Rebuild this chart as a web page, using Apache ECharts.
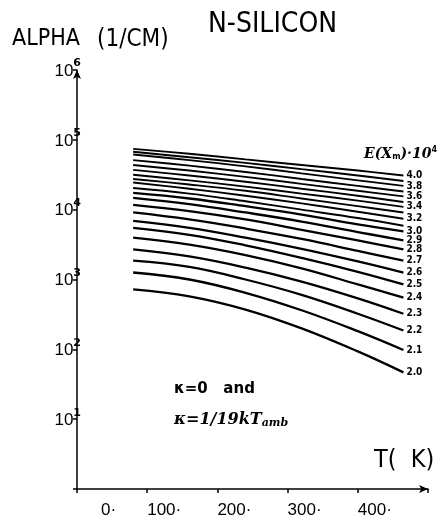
<!DOCTYPE html>
<html>
<head>
<meta charset="utf-8">
<script src="https://cdn.jsdelivr.net/npm/echarts@6/dist/echarts.min.js"></script>
<style>
  html, body { margin: 0; padding: 0; background: #fff; }
  #main { width: 439px; height: 522px; }
</style>
</head>
<body>
<div id="main"></div>
<script>
var temps = [80, 160, 240, 320, 400, 465];
// log10(alpha) per curve, E(Xm) in units of 10^4
var e20 = [2.86, 2.76, 2.57, 2.30, 1.97, 1.67];
var e21 = [3.10, 3.00, 2.81, 2.56, 2.26, 1.99];
var e22 = [3.27, 3.18, 3.00, 2.78, 2.51, 2.27];
var e23 = [3.43, 3.33, 3.17, 2.97, 2.73, 2.51];
var e24 = [3.60, 3.50, 3.35, 3.16, 2.93, 2.74];
var e25 = [3.74, 3.64, 3.49, 3.31, 3.11, 2.93];
var e26 = [3.84, 3.74, 3.60, 3.44, 3.26, 3.10];
var e27 = [3.96, 3.86, 3.73, 3.58, 3.41, 3.27];
var e28 = [4.07, 3.98, 3.86, 3.71, 3.56, 3.43];
var e29 = [4.17, 4.08, 3.96, 3.83, 3.68, 3.56];
var e30 = [4.24, 4.16, 4.05, 3.93, 3.79, 3.69];
var e31 = [4.31, 4.23, 4.12, 4.00, 3.88, 3.77];
var e32 = [4.39, 4.30, 4.20, 4.09, 3.97, 3.87];
var e33 = [4.44, 4.36, 4.27, 4.16, 4.05, 3.96];
var e34 = [4.50, 4.42, 4.33, 4.23, 4.13, 4.04];
var e35 = [4.57, 4.49, 4.40, 4.30, 4.20, 4.11];
var e36 = [4.64, 4.56, 4.47, 4.37, 4.27, 4.19];
var e37 = [4.71, 4.63, 4.54, 4.44, 4.34, 4.26];
var e38 = [4.79, 4.71, 4.62, 4.52, 4.42, 4.34];
var e39 = [4.83, 4.75, 4.67, 4.58, 4.49, 4.41];
var e40 = [4.87, 4.80, 4.72, 4.64, 4.56, 4.49];

var curveNames = ['2.0','2.1','2.2','2.3','2.4','2.5','2.6','2.7','2.8','2.9','3.0',
                  '3.1','3.2','3.3','3.4','3.5','3.6','3.7','3.8','3.9','4.0'];
var curveData = [e20,e21,e22,e23,e24,e25,e26,e27,e28,e29,e30,
                 e31,e32,e33,e34,e35,e36,e37,e38,e39,e40];
// which curves carry a label at their end
var labelled = ['2.0','2.1','2.2','2.3','2.4','2.5','2.6','2.7','2.8','2.9','3.0',
                '3.2','3.4','3.6','3.8','4.0'];

var xTicks = [0, 100, 200, 300, 400];
var yTicks = [1, 2, 3, 4, 5, 6];

var plotFont = 'DejaVu Sans Condensed, DejaVu Sans, sans-serif';

var chart = echarts.init(document.getElementById('main'));

var series = [];
for (var i = 0; i < curveData.length; i++) {
    var pts = [];
    for (var j = 0; j < temps.length; j++) {
        pts.push([temps[j], curveData[i][j]]);
    }
    var name = curveNames[i];
    series.push({
        name: name,
        type: 'line',
        data: pts,
        smooth: 0.4,
        symbol: 'none',
        silent: true,
        lineStyle: { color: '#000', width: i < 11 ? 2.3 : 1.9 },
        endLabel: {
            show: labelled.indexOf(name) >= 0,
            formatter: name,
            color: '#000',
            fontSize: 10,
            fontWeight: 'bold',
            fontFamily: plotFont,
            distance: 3
        }
    });
}

var option = {
    backgroundColor: '#fff',
    animation: false,
    grid: { left: 77, right: 11, top: 70, bottom: 33 },
    xAxis: {
        type: 'value',
        min: 0,
        max: 500,
        interval: 100,
        splitLine: { show: false },
        axisLine: {
            lineStyle: { color: '#000', width: 1.5 },
            symbol: ['none', 'arrow'],
            symbolSize: [6, 9]
        },
        axisTick: { show: true, length: 4, lineStyle: { color: '#000', width: 1.5 } },
        axisLabel: {
            align: 'left',
            margin: 13,
            color: '#000',
            fontSize: 17,
            fontFamily: 'Liberation Sans',
            formatter: function (v) {
                if (v === 0) return '{z|0·}';
                if (xTicks.indexOf(v) < 0) return '';
                return v + '·';
            },
            rich: {
                z: { fontSize: 17, fontFamily: 'Liberation Sans', color: '#000', padding: [0, 0, 0, 24] }
            }
        }
    },
    yAxis: {
        type: 'value',
        min: 0,
        max: 6,
        interval: 1,
        splitLine: { show: false },
        axisLine: {
            lineStyle: { color: '#000', width: 1.5 },
            symbol: ['none', 'arrow'],
            symbolSize: [6, 9]
        },
        axisTick: { show: true, length: 4, lineStyle: { color: '#000', width: 1.5 } },
        axisLabel: {
            margin: -4,
            color: '#000',
            formatter: function (v) {
                if (yTicks.indexOf(v) < 0) return '';
                return '{b|10}{s|' + v + '}';
            },
            rich: {
                b: { fontSize: 17, fontFamily: 'Liberation Sans', color: '#000', padding: [2, 0, 0, 0] },
                s: { fontSize: 11, fontWeight: 'bold', fontFamily: 'DejaVu Sans', color: '#000', padding: [0, 0, 13, 0] }
            }
        }
    },
    graphic: [
        {
            type: 'text', left: 208, top: 11,
            style: { text: 'N-SILICON', fontSize: 28, fontFamily: plotFont, fill: '#000' }
        },
        {
            type: 'text', left: 12, top: 28,
            style: { text: 'ALPHA', fontSize: 23, fontFamily: plotFont, fill: '#000' }
        },
        {
            type: 'text', left: 97, top: 28,
            style: { text: '(1/CM)', fontSize: 24, fontFamily: plotFont, fill: '#000' }
        },
        {
            type: 'text', left: 374, top: 448,
            style: { text: 'T(  K)', fontSize: 25, fontFamily: plotFont, fill: '#000' }
        },
        {
            type: 'text', left: 364, top: 146,
            style: {
                text: '{i|E(X}{sub|m}{i|)·10}{sup|4}',
                rich: {
                    i: { fontSize: 14, fontStyle: 'italic', fontWeight: 'bold', fontFamily: 'DejaVu Serif', fill: '#000' },
                    sub: { fontSize: 8, fontWeight: 'bold', fontFamily: 'DejaVu Sans', fill: '#000', padding: [6, 0, 0, 0] },
                    sup: { fontSize: 8, fontWeight: 'bold', fontFamily: 'DejaVu Sans', fill: '#000', padding: [0, 0, 8, 0] }
                }
            }
        },
        {
            type: 'text', left: 174, top: 382,
            style: { text: 'κ=0   and', fontSize: 15, fontWeight: 'bold', fontFamily: 'DejaVu Sans', fill: '#000' }
        },
        {
            type: 'text', left: 174, top: 412,
            style: {
                text: '{a|κ=1/19kT}{b|amb}',
                rich: {
                    a: { fontSize: 16, fontWeight: 'bold', fontStyle: 'italic', fontFamily: 'DejaVu Serif', fill: '#000' },
                    b: { fontSize: 11, fontWeight: 'bold', fontStyle: 'italic', fontFamily: 'DejaVu Serif', fill: '#000', padding: [6, 0, 0, 0] }
                }
            }
        }
    ],
    series: series
};

chart.setOption(option);
</script>
</body>
</html>
